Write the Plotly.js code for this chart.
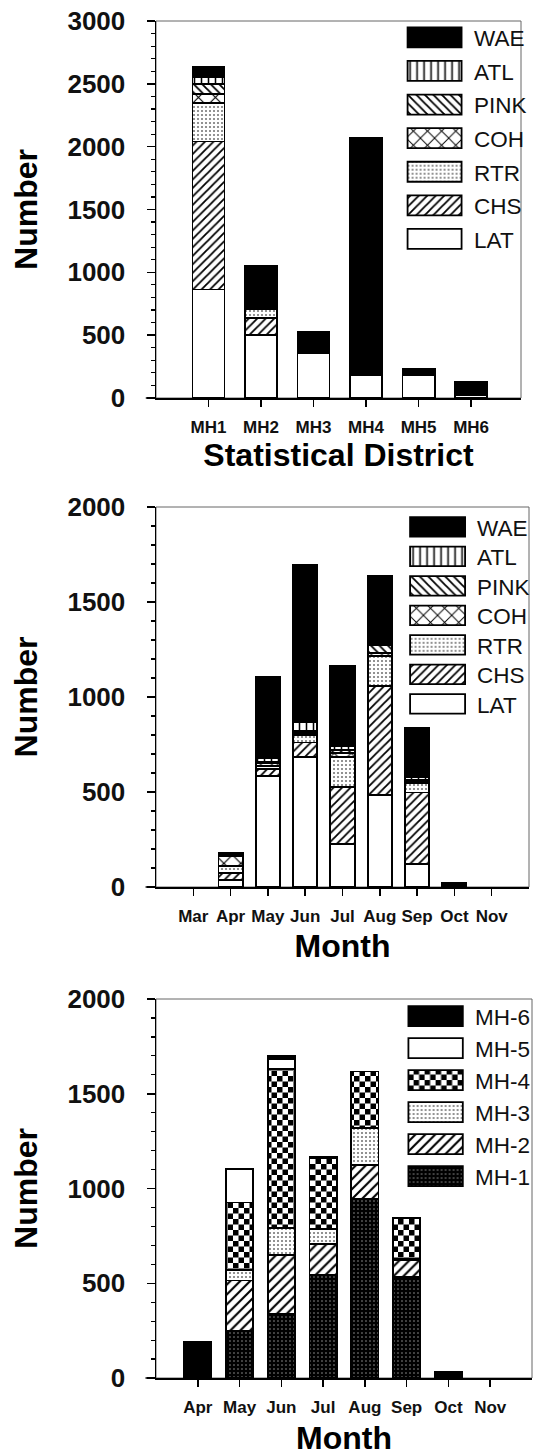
<!DOCTYPE html>
<html><head><meta charset="utf-8">
<script src="https://cdn.plot.ly/plotly-3.0.1.min.js"></script>
<style>
html,body{margin:0;padding:0;background:#fff;width:537px;height:1456px;overflow:hidden}
.p{position:absolute;left:0;width:537px}
</style></head><body>
<div id="c1" class="p" style="top:0;height:500px"></div>
<div id="c2" class="p" style="top:480px;height:500px"></div>
<div id="c3" class="p" style="top:960px;height:496px"></div>
<script>
// ---------- DATA ----------
const districts = ['MH1','MH2','MH3','MH4','MH5','MH6'];
const LAT_d  = [864, 502, 357, 180, 185, 26];
const CHS_d  = [1177, 132, 8, 0, 0, 16];
const RTR_d  = [309, 72, 15, 0, 8, 16];
const COH_d  = [66, 18, 12, 0, 0, 16];
const PINK_d = [82, 17, 8, 0, 0, 15];
const ATL_d  = [58, 18, 12, 0, 12, 16];
const WAE_d  = [79, 293, 111, 1887, 25, 27];

const monthsA = ['Mar','Apr','May','Jun','Jul','Aug','Sep','Oct','Nov'];
const LAT_m  = [0, 35, 586, 684, 228, 484, 122, 3, 0];
const CHS_m  = [0, 39, 35, 77, 300, 576, 375, 3, 0];
const RTR_m  = [0, 35, 15, 40, 156, 155, 50, 2, 0];
const COH_m  = [0, 52, 15, 8, 20, 18, 10, 3, 0];
const PINK_m = [0, 0, 10, 12, 18, 42, 8, 2, 0];
const ATL_m  = [0, 0, 18, 46, 20, 8, 15, 3, 0];
const WAE_m  = [0, 21, 426, 829, 421, 355, 257, 5, 0];

const monthsB = ['Apr','May','Jun','Jul','Aug','Sep','Oct','Nov'];
const MH1_m = [8, 246, 337, 545, 944, 532, 10, 0];
const MH2_m = [8, 269, 313, 163, 181, 92, 0, 0];
const MH3_m = [5, 53, 141, 78, 193, 5, 0, 0];
const MH4_m = [0, 358, 838, 373, 299, 215, 5, 0];
const MH5_m = [0, 176, 55, 0, 0, 0, 0, 0];
const MH6_m = [167, 0, 17, 10, 0, 0, 15, 0];

const speciesNames = ['LAT','CHS','RTR','COH','PINK','ATL','WAE'];
const districtNames = ['MH-1','MH-2','MH-3','MH-4','MH-5','MH-6'];
const yMax1 = 3000, yMax2 = 2000, yMajor = 500, yMinor = 100;
const xTitle1 = 'Statistical District', xTitle2 = 'Month', yTitle = 'Number';

// ---------- STYLE ----------
const F = 'Liberation Sans, Arial, sans-serif';
const W = '#ffffff', K = '#000000';
const STY = {
  LAT:  {color: W, pattern: {shape: ''}},
  CHS:  {color: W, pattern: {shape: '/', fgcolor: K, bgcolor: W, size: 6, solidity: 0.3}},
  RTR:  {color: W, pattern: {shape: '.', fgcolor: '#777', bgcolor: W, size: 4, solidity: 0.22}},
  COH:  {color: W, pattern: {shape: 'x', fgcolor: K, bgcolor: W, size: 12, solidity: 0.18}},
  PINK: {color: W, pattern: {shape: '\\', fgcolor: K, bgcolor: W, size: 6, solidity: 0.3}},
  ATL:  {color: W, pattern: {shape: '|', fgcolor: K, bgcolor: W, size: 7, solidity: 0.22}},
  WAE:  {color: K, pattern: {shape: ''}},
  'MH-1': {color: K, pattern: {shape: '.', fgcolor: '#9a9a9a', bgcolor: K, size: 4, solidity: 0.12}},
  'MH-2': {color: W, pattern: {shape: '/', fgcolor: K, bgcolor: W, size: 7, solidity: 0.3}},
  'MH-3': {color: W, pattern: {shape: '.', fgcolor: '#777', bgcolor: W, size: 4, solidity: 0.22}},
  'MH-4': {color: W, pattern: {shape: '+', fgcolor: '#020202', bgcolor: W, size: 11, solidity: 0.5}},
  'MH-5': {color: W, pattern: {shape: ''}},
  'MH-6': {color: K, pattern: {shape: ''}}
};

function bar(x, y, name, width) {
  const s = STY[name];
  return {type: 'bar', x: x, y: y.map(v => v === 0 ? null : v), name: name, width: width,
    marker: {color: s.color, pattern: s.pattern, line: {color: K, width: 1.8}},
    hoverinfo: 'skip'};
}

function mkLayout(cats, xr, yMax, h, mt, mb, mr, xtitle, xstand, leg) {
  return {
    width: 537, height: h,
    margin: {l: 156, r: mr, t: mt, b: mb, pad: 0},
    paper_bgcolor: 'rgba(0,0,0,0)', plot_bgcolor: W,
    barmode: 'stack', showlegend: true,
    font: {family: F, color: K},
    xaxis: {type: 'category', categoryorder: 'array', categoryarray: cats, range: [-1, xr],
      showline: true, linecolor: K, linewidth: 1.5, ticks: 'outside', ticklen: 7, tickwidth: 1.5, tickcolor: K,
      tickfont: {family: F, size: 17, weight: 'bold', color: '#111'}, ticklabelstandoff: 6,
      showgrid: false, zeroline: false, fixedrange: true, automargin: false,
      title: {text: xtitle, font: {family: F, size: 32, weight: 'bold', color: K}, standoff: xstand}},
    yaxis: {range: [0, yMax], tickmode: 'linear', tick0: 0, dtick: yMajor,
      showline: true, linecolor: K, linewidth: 1.5, ticks: 'outside', ticklen: 8, tickwidth: 1.5, tickcolor: K,
      minor: {dtick: yMinor, ticks: 'outside', ticklen: 4, tickwidth: 1.2, tickcolor: K, showgrid: false},
      tickfont: {family: F, size: 26, weight: 'bold', color: '#111'}, ticklabelstandoff: 16,
      showgrid: false, zeroline: false, fixedrange: true, automargin: false,
      title: {text: yTitle, font: {family: F, size: 32, weight: 'bold', color: K}, standoff: 20}},
    legend: {x: leg.x, xanchor: 'left', y: leg.y, yanchor: 'top', traceorder: 'reversed',
      itemwidth: 69, bgcolor: 'rgba(0,0,0,0)', borderwidth: 0,
      font: {family: F, size: 22.5, color: '#111'}},
    shapes: [
      {type: 'rect', xref: 'x domain', yref: 'y domain', x0: 0, x1: 1, y0: 0, y1: 1,
        line: {color: '#666', width: 1}, layer: 'below'},
      {type: 'line', xref: 'x domain', yref: 'y domain', x0: -0.028, x1: 0, y0: 0, y1: 0,
        line: {color: K, width: 1.5}}
    ]
  };
}

function patch(gd, sw, sh, spacing) {
  const NS = 'http://www.w3.org/2000/svg';
  gd.querySelectorAll('.legend .legendpoints path').forEach(p => {
    p.setAttribute('d', 'M' + sw/2 + ',' + sh/2 + 'H' + (-sw/2) + 'V' + (-sh/2) + 'H' + sw/2 + 'Z');
  });
  const items = gd.querySelectorAll('.legend .traces');
  let y0 = null;
  items.forEach((t, i) => {
    const m = /translate\(\s*([-\d.]+)[ ,]+([-\d.]+)/.exec(t.getAttribute('transform') || '');
    if (!m) return;
    if (y0 === null) y0 = parseFloat(m[2]);
    t.setAttribute('transform', 'translate(' + m[1] + ',' + (y0 + i * spacing) + ')');
  });
  gd.querySelectorAll('pattern').forEach(pt => {
    pt.removeAttribute('patternTransform');
    if (/rgb\(2, 2, 2\)|#020202/i.test(pt.innerHTML)) {
      while (pt.firstChild) pt.removeChild(pt.firstChild);
      const a = 5.5;
      pt.setAttribute('width', 2 * a); pt.setAttribute('height', 2 * a);
      [[0, 0, 2*a, 2*a, '#fff'], [0, 0, a, a, '#000'], [a, a, a, a, '#000']].forEach(r => {
        const e = document.createElementNS(NS, 'rect');
        e.setAttribute('x', r[0]); e.setAttribute('y', r[1]);
        e.setAttribute('width', r[2]); e.setAttribute('height', r[3]);
        e.setAttribute('fill', r[4]);
        pt.appendChild(e);
      });
    }
  });
}

const cfg = {displayModeBar: false, staticPlot: true};

// Panel 1
const dData = {LAT: LAT_d, CHS: CHS_d, RTR: RTR_d, COH: COH_d, PINK: PINK_d, ATL: ATL_d, WAE: WAE_d};
const t1 = speciesNames.map(n => bar(districts, dData[n], n, 0.61));
const L1 = mkLayout(districts, 5.95, yMax1, 500, 21, 102, 5, xTitle1, 6, {x: 0.655, y: 1.0127});
Plotly.newPlot('c1', t1, L1, cfg).then(gd => patch(gd, 54, 20, 33.6));

// Panel 2
const mData = {LAT: LAT_m, CHS: CHS_m, RTR: RTR_m, COH: COH_m, PINK: PINK_m, ATL: ATL_m, WAE: WAE_m};
const t2 = speciesNames.map(n => bar(monthsA, mData[n], n, 0.65));
const L2 = mkLayout(monthsA, 9, yMax2, 500, 27, 93, 2, xTitle2, 9.5, {x: 0.649, y: 1.0034});
Plotly.newPlot('c2', t2, L2, cfg).then(gd => patch(gd, 55, 19.5, 29.5));

// Panel 3
const hData = {'MH-1': MH1_m, 'MH-2': MH2_m, 'MH-3': MH3_m, 'MH-4': MH4_m, 'MH-5': MH5_m, 'MH-6': MH6_m};
const t3 = districtNames.map(n => bar(monthsB, hData[n], n, 0.65));
const L3 = mkLayout(monthsB, 8, yMax2, 496, 39, 78, 2, xTitle2, 14, {x: 0.6386, y: 1.0108});
Plotly.newPlot('c3', t3, L3, cfg).then(gd => patch(gd, 54.4, 20, 32));
</script>
</body></html>
